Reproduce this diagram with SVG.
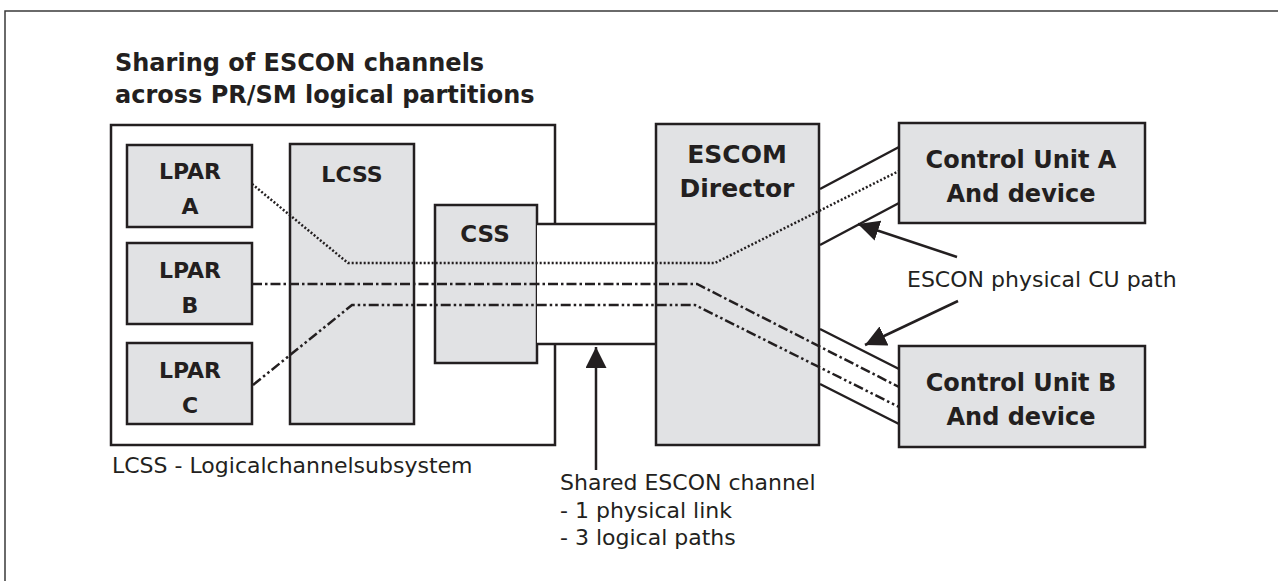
<svg xmlns="http://www.w3.org/2000/svg" width="1278" height="581" viewBox="0 0 1278 581">
<style>
.box{fill:#e1e2e4;stroke:#231f20;stroke-width:2.5}
.wbox{fill:#ffffff;stroke:#231f20;stroke-width:2.5}
.ln{fill:none;stroke:#231f20;stroke-width:2.5}
.b{font-family:"DejaVu Sans","Liberation Sans",sans-serif;font-weight:bold;fill:#231f20;text-anchor:middle}
.r{font-family:"DejaVu Sans","Liberation Sans",sans-serif;font-weight:normal;fill:#231f20}
.dot{stroke-dasharray:2 2}
.dd{stroke-dasharray:10 3 2.5 3}
.ddd{stroke-dasharray:10 3 2.5 3 2.5 3}
</style>
<defs>
<marker id="ah" markerWidth="22" markerHeight="22" refX="21" refY="10.5" orient="auto" markerUnits="userSpaceOnUse">
<path d="M0,0 L21,10.5 L0,21 z" fill="#231f20"/>
</marker>
</defs>
<rect width="1278" height="581" fill="#ffffff"/>
<path d="M5,581 V11 H1278" fill="none" stroke="#3a3a3a" stroke-width="1.5"/>
<g id="title">
<text class="b" x="115" y="71" font-size="24" style="text-anchor:start">Sharing of ESCON channels</text>
<text class="b" x="115" y="103" font-size="24" style="text-anchor:start">across PR/SM logical partitions</text>
</g>
<g id="system">
<rect class="wbox" x="111" y="125" width="444" height="320"/>
</g>
<g id="lpar-a">
<rect class="box" x="127" y="145" width="125" height="82"/>
<text class="b" x="190" y="179" font-size="22">LPAR</text>
<text class="b" x="190" y="214" font-size="22">A</text>
</g>
<g id="lpar-b">
<rect class="box" x="127" y="243" width="125" height="81"/>
<text class="b" x="190" y="278" font-size="22">LPAR</text>
<text class="b" x="190" y="313" font-size="22">B</text>
</g>
<g id="lpar-c">
<rect class="box" x="127" y="343" width="125" height="81"/>
<text class="b" x="190" y="378" font-size="22">LPAR</text>
<text class="b" x="190" y="413" font-size="22">C</text>
</g>
<g id="lcss">
<rect class="box" x="290" y="144" width="124" height="280"/>
<text class="b" x="352" y="182" font-size="22">LCSS</text>
</g>
<g id="css">
<rect class="box" x="435" y="205" width="102" height="158"/>
<text class="b" x="485" y="242" font-size="23">CSS</text>
</g>
<g id="channel">
<rect x="537" y="224" width="119" height="120" fill="#ffffff"/>
<path class="ln" d="M537,224 H656 M537,344 H656"/>
</g>
<g id="escom">
<rect class="box" x="656" y="124" width="163" height="321"/>
<text class="b" x="737" y="163" font-size="25">ESCOM</text>
<text class="b" x="737" y="197" font-size="25">Director</text>
</g>
<g id="cu-a">
<rect class="box" x="899" y="123" width="246" height="100"/>
<text class="b" x="1021" y="168" font-size="24">Control Unit A</text>
<text class="b" x="1021" y="202" font-size="24">And device</text>
</g>
<g id="cu-b">
<rect class="box" x="899" y="346" width="246" height="101"/>
<text class="b" x="1021" y="391" font-size="24">Control Unit B</text>
<text class="b" x="1021" y="425" font-size="24">And device</text>
</g>
<g id="connectors">
<path class="ln" d="M820,189 L899,147 M820,245 L899,203"/>
<path class="ln" d="M820,329 L899,369 M820,384 L899,424"/>
<path class="ln dot" d="M252,184 L348,263 H715 L899,171"/>
<path class="ln dd" d="M252,284 H697 L899,387"/>
<path class="ln ddd" d="M253,385 L352,305 H695 L899,407"/>
<path class="ln" d="M957,257 L858,224" marker-end="url(#ah)"/>
<path class="ln" d="M958,301 L865,345" marker-end="url(#ah)"/>
<path class="ln" d="M596,470 L596,347" marker-end="url(#ah)"/>
</g>
<g id="labels">
<text class="r" x="907" y="287" font-size="22">ESCON physical CU path</text>
<text class="r" x="112" y="473" font-size="22">LCSS - Logicalchannelsubsystem</text>
<text class="r" x="560" y="490" font-size="22">Shared ESCON channel</text>
<text class="r" x="560" y="518" font-size="22">- 1 physical link</text>
<text class="r" x="560" y="545" font-size="22">- 3 logical paths</text>
</g>
</svg>
